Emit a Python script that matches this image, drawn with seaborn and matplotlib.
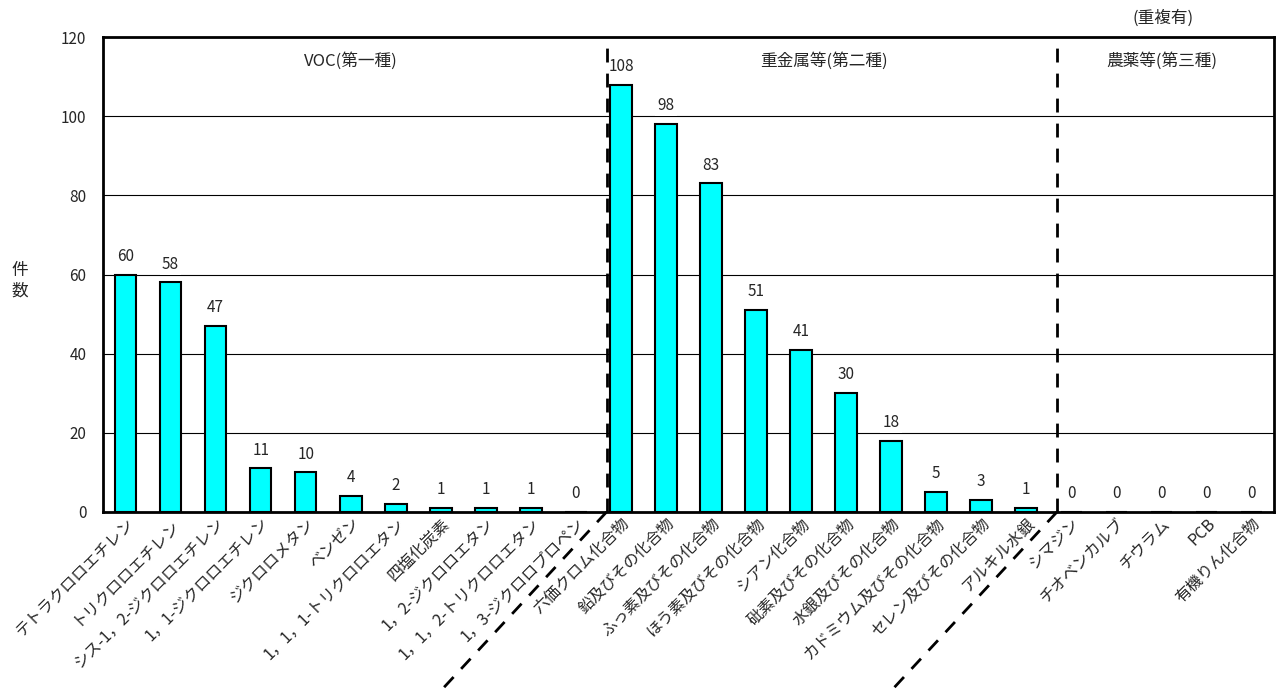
import matplotlib
matplotlib.use("Agg")
import matplotlib.pyplot as plt
import seaborn as sns
import pandas as pd
from matplotlib.lines import Line2D

categories = [
    "テトラクロロエチレン", "トリクロロエチレン", "シス-1，2-ジクロロエチレン",
    "1，1-ジクロロエチレン", "ジクロロメタン", "ベンゼン", "1，1，1-トリクロロエタン",
    "四塩化炭素", "1，2-ジクロロエタン", "1，1，2-トリクロロエタン", "1，3-ジクロロプロペン",
    "六価クロム化合物", "鉛及びその化合物", "ふっ素及びその化合物", "ほう素及びその化合物",
    "シアン化合物", "砒素及びその化合物", "水銀及びその化合物", "カドミウム及びその化合物",
    "セレン及びその化合物", "アルキル水銀", "シマジン", "チオベンカルブ", "チウラム",
    "PCB", "有機りん化合物",
]
values = [60, 58, 47, 11, 10, 4, 2, 1, 1, 1, 0,
          108, 98, 83, 51, 41, 30, 18, 5, 3, 1,
          0, 0, 0, 0, 0]
group_titles = ["VOC(第一種)", "重金属等(第二種)", "農薬等(第三種)"]
group_sizes = [11, 10, 5]
yticks = [0, 20, 40, 60, 80, 100, 120]

sns.set_theme(style="white")
plt.rcParams['font.family'] = ['Noto Sans CJK JP', 'DejaVu Sans']

df = pd.DataFrame({"cat": categories, "val": values})

fig = plt.figure(figsize=(12.76, 6.93), dpi=100)
ax = fig.add_axes([103/1276, 1-512/693, (1274-103)/1276, (512-37)/693])

sns.barplot(data=df, x="cat", y="val", ax=ax, color="#00FFFF", saturation=1,
            edgecolor="black", linewidth=1.5, width=0.48, zorder=3)

ax.set_ylim(0, 120)
ax.set_xlim(-0.5, len(categories) - 0.5)
ax.set_yticks(yticks)
ax.set_yticklabels([str(t) for t in yticks], fontsize=11)
ax.yaxis.grid(True, color="black", linewidth=0.8, zorder=0)
ax.set_axisbelow(True)
ax.tick_params(axis="y", length=0, pad=12)
ax.tick_params(axis="x", length=0, pad=2)
ax.set_xticks(range(len(categories)))
ax.set_xticklabels(categories, rotation=45, ha="right", rotation_mode="anchor", fontsize=11.5)
ax.set_xlabel("")
ax.set_ylabel("")
fig.text(20/1276, 1-281/693, "件\n数", ha="center", va="center", fontsize=12, linespacing=1.3)
for s in ax.spines.values():
    s.set_color("black")
    s.set_linewidth(2)

for i, v in enumerate(values):
    ax.text(i, v + 2.5, str(v), ha="center", va="bottom", fontsize=11, zorder=4,
            bbox=dict(facecolor="white", edgecolor="none", pad=1.5))

# group separators
start = 0
bounds = []
for n in group_sizes:
    bounds.append((start, start + n))
    start += n
for (a, b), title in zip(bounds, group_titles):
    ax.text((a + b - 1) / 2, 114, title, ha="center", va="center", fontsize=12)
for (a, b) in bounds[:-1]:
    xb = b - 0.5 + 0.18
    ax.plot([xb, xb], [0, 120], color="black", linestyle=(0, (5, 4)), linewidth=2, zorder=5)
    # diagonal continuation below axis
    x0 = ax.transData.transform((xb, 0))
    x0f = fig.transFigure.inverted().transform(x0)
    dx = 165 / 1276
    dy = 178 / 693
    fig.add_artist(Line2D([x0f[0], x0f[0] - dx], [x0f[1], x0f[1] - dy],
                          color="black", linestyle=(0, (5, 4)), linewidth=2))

fig.text(1163/1276, 1-18/693, "(重複有)", ha="center", va="center", fontsize=12)

fig.savefig("out.png", dpi=100)
